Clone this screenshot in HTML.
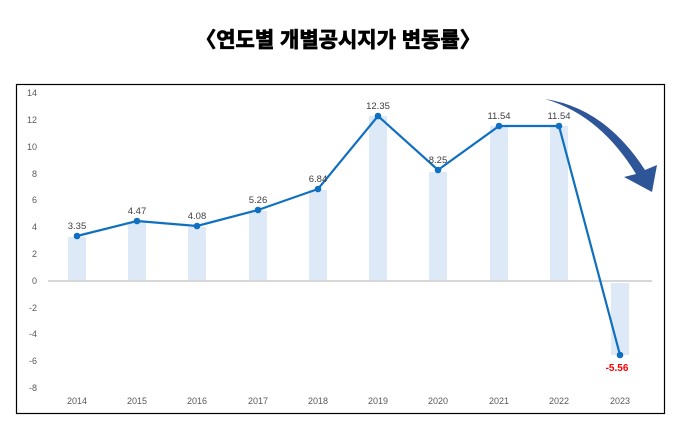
<!DOCTYPE html>
<html><head><meta charset="utf-8"><style>
html,body{margin:0;padding:0;background:#fff;}
svg{display:block;}
</style></head><body>
<svg width="677" height="421" viewBox="0 0 677 421" xmlns="http://www.w3.org/2000/svg" font-family="'Liberation Sans', sans-serif">
<text x="338" y="47" text-anchor="middle" font-size="21" font-weight="bold" font-family="'Liberation Sans','Noto Sans CJK KR',sans-serif" fill="#000" stroke="#000" stroke-width="0.8">〈연도별 개별공시지가 변동률〉</text>
<rect x="16.5" y="84.5" width="648" height="329" fill="#fff" stroke="#000" stroke-width="1.2"/>
<g font-size="9" fill="#595959" text-anchor="end">
<text x="37" y="96">14</text><text x="37" y="123">12</text><text x="37" y="150">10</text><text x="37" y="177">8</text><text x="37" y="203">6</text><text x="37" y="230">4</text><text x="37" y="257">2</text><text x="37" y="284">0</text><text x="37" y="311">-2</text><text x="37" y="337">-4</text><text x="37" y="364">-6</text><text x="37" y="391">-8</text>
</g>
<g fill="#dde9f6">
<rect x="68" y="237" width="18" height="43"/>
<rect x="128" y="222" width="18" height="58"/>
<rect x="188" y="227" width="18" height="53"/>
<rect x="249" y="211" width="18" height="69"/>
<rect x="309" y="190" width="18" height="90"/>
<rect x="369" y="116" width="18" height="164"/>
<rect x="429" y="172" width="18" height="108"/>
<rect x="490" y="126" width="18" height="154"/>
<rect x="550" y="126" width="18" height="154"/>
<rect x="611" y="283" width="18" height="72"/>
</g>
<line x1="48" y1="281" x2="652" y2="281" stroke="#bfbfbf" stroke-width="1.2"/>
<polyline fill="none" stroke="#0f6fc0" stroke-width="2.2" points="77,236 137,221 197,226 258,210 318,189 378,116 438,170 499,126 559,126 620,355"/>
<g fill="#0f6fc0">
<circle cx="77" cy="236" r="3.3"/><circle cx="137" cy="221" r="3.3"/><circle cx="197" cy="226" r="3.3"/><circle cx="258" cy="210" r="3.3"/><circle cx="318" cy="189" r="3.3"/><circle cx="378" cy="116" r="3.3"/><circle cx="438" cy="170" r="3.3"/><circle cx="499" cy="126" r="3.3"/><circle cx="559" cy="126" r="3.3"/><circle cx="620" cy="355" r="3.3"/>
</g>
<g font-size="9.5" fill="#404040" text-anchor="middle">
<text x="77" y="229">3.35</text><text x="137" y="214">4.47</text><text x="197" y="219">4.08</text><text x="258" y="203">5.26</text><text x="318" y="182">6.84</text><text x="378" y="109">12.35</text><text x="438" y="163">8.25</text><text x="499" y="119">11.54</text><text x="559" y="119">11.54</text>
</g>
<text x="617" y="371" font-size="10" font-weight="bold" fill="#ff0000" text-anchor="middle">-5.56</text>
<g font-size="9" fill="#595959" text-anchor="middle">
<text x="77" y="404">2014</text><text x="137" y="404">2015</text><text x="197" y="404">2016</text><text x="258" y="404">2017</text><text x="318" y="404">2018</text><text x="378" y="404">2019</text><text x="438" y="404">2020</text><text x="499" y="404">2021</text><text x="559" y="404">2022</text><text x="620" y="404">2023</text>
</g>
<path d="M545,99 Q605,108 645,170 L657,165 L652,192 L624,177 L636,174 Q600,115 545,99 Z" fill="#2e5597"/>
</svg>
</body></html>
